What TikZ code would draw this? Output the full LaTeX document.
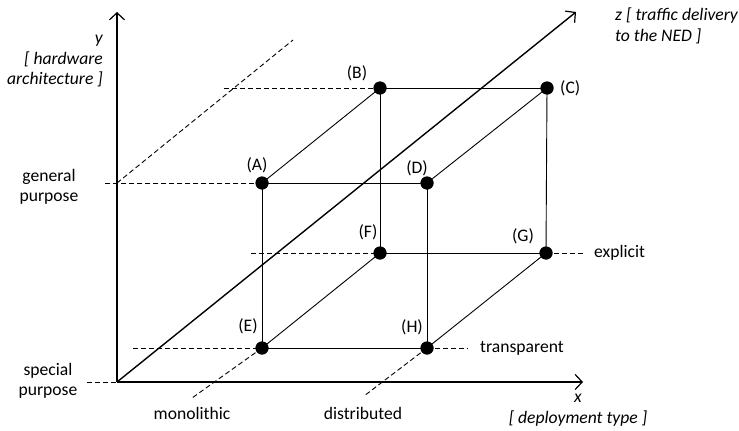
\documentclass[tikz,border=0pt]{standalone}
\usepackage{fontspec}
\setmainfont{Carlito}
\usetikzlibrary{arrows.meta}
\begin{document}
\begin{tikzpicture}[x=1pt,y=-1pt,
  axis/.style={line width=1.4pt, -{Straight Barb[length=7pt,width=15pt,line width=1.2pt]}},
  cubeedge/.style={line width=0.9pt},
  guide/.style={line width=0.9pt, dash pattern=on 5pt off 3pt},
  pt/.style={circle, fill=black, inner sep=0pt, minimum size=13pt},
  lbl/.style={font=\fontsize{17.6}{20.5}\selectfont, inner sep=0pt},
  ilbl/.style={lbl, font=\fontsize{17.6}{20.5}\selectfont\itshape}
]
\useasboundingbox (0,0) rectangle (739,431);
% axes end points
\coordinate (O) at (117,382);
\coordinate (ytip) at (117,12);
\coordinate (xtip) at (583,382);
\coordinate (ztip) at (576,12);
% guide end points
\coordinate (gA) at (105,183);
\coordinate (gB) at (224,88);
\coordinate (gY) at (117,183);
\coordinate (gY2) at (293,40);
\coordinate (gE) at (133,348);
\coordinate (gO) at (87,382);
\coordinate (gE2) at (192,398);
\coordinate (gH2) at (364,396);
\coordinate (gF) at (251,253);
\coordinate (gG) at (583,253);
\coordinate (gH) at (468,348);
% points
\node[pt] (A) at (262,183) {};
\node[pt] (B) at (380,88) {};
\node[pt] (C) at (547,88) {};
\node[pt] (D) at (427,183) {};
\node[pt] (E) at (262,348) {};
\node[pt] (F) at (380,253) {};
\node[pt] (G) at (546,253) {};
\node[pt] (H) at (427,348) {};
% guides
\draw[guide] (gA) -- (A.center);
\draw[guide] (gB) -- (B.center);
\draw[guide] (gY) -- (gY2);
\draw[guide] (gE) -- (E.center);
\draw[guide] (gO) -- (O);
\draw[guide] (E.center) -- (gE2);
\draw[guide] (H.center) -- (gH2);
\draw[guide] (gF) -- (F.center);
\draw[guide] (G.center) -- (gG);
\draw[guide] (H.center) -- (gH);
% cube
\draw[cubeedge] (A.center) -- (B.center);
\draw[cubeedge] (A.center) -- (D.center);
\draw[cubeedge] (A.center) -- (E.center);
\draw[cubeedge] (B.center) -- (C.center);
\draw[cubeedge] (B.center) -- (F.center);
\draw[cubeedge] (C.center) -- (D.center);
\draw[cubeedge] (C.center) -- (G.center);
\draw[cubeedge] (D.center) -- (H.center);
\draw[cubeedge] (E.center) -- (H.center);
\draw[cubeedge] (E.center) -- (F.center);
\draw[cubeedge] (F.center) -- (G.center);
\draw[cubeedge] (G.center) -- (H.center);
% axes
\draw[axis] (O) -- (ytip);
\draw[axis] (O) -- (xtip);
\draw[axis] (O) -- (ztip);
% redraw dots on top
\foreach \p in {A,B,C,D,E,F,G,H} \fill (\p) circle (6.5pt);
% point labels
\node[lbl] (lA) at (257,165) {(A)};
\node[lbl] (lB) at (357,73) {(B)};
\node[lbl,anchor=west] (lC) at (560,88) {(C)};
\node[lbl] (lD) at (417,168) {(D)};
\node[lbl] (lE) at (248,326) {(E)};
\node[lbl] (lF) at (368,232) {(F)};
\node[lbl] (lG) at (523,236) {(G)};
\node[lbl] (lH) at (412,327) {(H)};
% axis labels
\node[ilbl,align=right,anchor=east] (ylab) at (103,61) {y\\{[} hardware\\architecture ]};
\node[ilbl,align=left,anchor=west] (zlab) at (615,26) {z [ traffic delivery\\to the NED ]};
\node[ilbl,align=center] (xlab) at (578,410) {x\\{[} deployment type ]};
% value labels
\node[lbl,align=center] (gp) at (49,187) {general\\purpose};
\node[lbl,align=center] (sp) at (48,381) {special\\purpose};
\node[lbl] (mono) at (192,413) {monolithic};
\node[lbl] (dist) at (363,413) {distributed};
\node[lbl,anchor=west] (expl) at (594,253) {explicit};
\node[lbl,anchor=west] (transp) at (480,348) {transparent};
\end{tikzpicture}
\end{document}
